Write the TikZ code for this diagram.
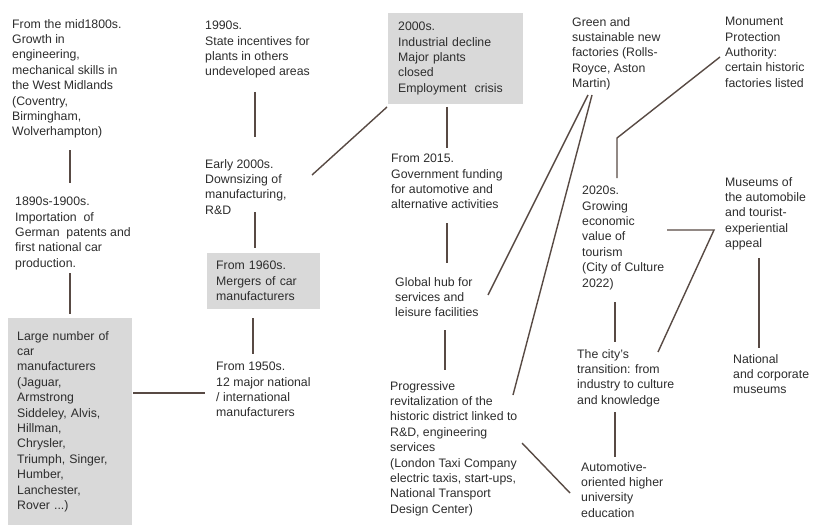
\documentclass[tikz,border=0pt]{standalone}
\usepackage{fontspec}
\setmainfont{Liberation Sans}
\usetikzlibrary{calc}
\definecolor{boxgray}{RGB}{217,217,217}
\definecolor{linebrown}{RGB}{88,74,68}
\definecolor{textgray}{RGB}{45,45,45}
\begin{document}
\begin{tikzpicture}
        [x=1pt, y=-1pt,
         text_style/.style={anchor=north west, inner sep=0pt, align=left, text=textgray,
                            font=\fontsize{12.3}{15.4}\selectfont},
         box_style/.style={text_style, fill=boxgray, inner xsep=9pt, inner ysep=8pt},
         edge_style/.style={draw=linebrown, line width=1.4pt}]
            \fill[white] (0,0) rectangle (821,532);
            \useasboundingbox (0,0) rectangle (821,532);
            % first column
            \node[text_style] (m1800) at (12, 19) {From the mid1800s.\\Growth in\\engineering,\\mechanical skills in\\the West Midlands\\(Coventry,\\Birmingham,\\Wolverhampton)};
            \node[text_style] (i1890) at (15, 197) {1890s-1900s.\\Importation \ of\\German \ patents and\\first national car\\production.};
            \node[box_style, inner ysep=13pt, text width=106pt] (large) at (8, 318) {Large number of\\car\\manufacturers\\(Jaguar,\\Armstrong\\Siddeley, Alvis,\\Hillman,\\Chrysler,\\Triumph, Singer,\\Humber,\\Lanchester,\\Rover ...)};
            % second column
            \node[text_style] (s1990) at (205, 21) {1990s.\\State incentives for\\plants in others\\undeveloped areas};
            \node[text_style] (e2000) at (205, 159) {Early 2000s.\\Downsizing of\\manufacturing,\\R\&D};
            \node[box_style, text width=95pt] (f1960) at (207, 253) {From 1960s.\\Mergers of car\\manufacturers};
            \node[text_style] (f1950) at (216, 362) {From 1950s.\\12 major national\\/ international\\manufacturers};
            % third column
            \node[box_style, inner xsep=10pt, inner ysep=9pt, text width=115pt] (d2000) at (388, 13) {2000s.\\Industrial decline\\Major plants\\closed\\Employment \ crisis};
            \node[text_style] (f2015) at (391, 154) {From 2015.\\Government funding\\for automotive and\\alternative activities};
            \node[text_style] (hub) at (395, 277) {Global hub for\\services and\\leisure facilities};
            \node[text_style] (prog) at (390, 381) {Progressive\\revitalization of the\\historic district linked to\\R\&D, engineering\\services\\(London Taxi Company\\electric taxis, start-ups,\\National Transport\\Design Center)};
            % fourth column
            \node[text_style] (green) at (572, 17) {Green and\\sustainable new\\factories (Rolls-\\Royce, Aston\\Martin)};
            \node[text_style] (t2020) at (582, 186) {2020s.\\Growing\\economic\\value of\\tourism\\(City of Culture\\2022)};
            \node[text_style] (trans) at (577, 349) {The city's\\transition: from\\industry to culture\\and knowledge};
            \node[text_style] (auto) at (581, 462) {Automotive-\\oriented higher\\university\\education};
            % fifth column
            \node[text_style] (monu) at (725, 17) {Monument\\Protection\\Authority:\\certain historic\\factories listed};
            \node[text_style] (museum) at (725, 177) {Museums of\\the automobile\\and tourist-\\experiential\\appeal};
            \node[text_style] (natl) at (733, 354) {National\\and corporate\\museums};
            % links
            \draw[edge_style] ($(m1800.north west)+(58,131)$) -- ($(i1890.north west)+(55,-14)$);
            \draw[edge_style] ($(i1890.north west)+(55,76)$) -- ($(large.north west)+(62,-4)$);
            \draw[edge_style] ($(large.north east)+(1,75)$) -- ($(f1950.north west)+(-11,31)$);
            \draw[edge_style] ($(s1990.north west)+(50,71)$) -- ($(e2000.north west)+(50,-22)$);
            \draw[edge_style] ($(e2000.north west)+(50,53)$) -- ($(f1960.north west)+(48,-5)$);
            \draw[edge_style] ($(f1960.north west)+(46,65)$) -- ($(f1950.north west)+(37,-8)$);
            \draw[edge_style] ($(e2000.north west)+(107,16)$) -- ($(d2000.north west)+(-1,94)$);
            \draw[edge_style] ($(d2000.north west)+(59,94)$) -- ($(f2015.north west)+(56,-6)$);
            \draw[edge_style] ($(f2015.north west)+(56,69)$) -- ($(hub.north west)+(52,-14)$);
            \draw[edge_style] ($(hub.north west)+(50,53)$) -- ($(prog.north west)+(55,-11)$);
            \draw[edge_style] ($(green.north west)+(16,78)$) -- ($(hub.north west)+(93,18)$);
            \draw[edge_style] ($(green.north west)+(20,78)$) -- ($(prog.north west)+(123,14)$);
            \draw[edge_style] ($(prog.north west)+(132,62)$) -- ($(auto.north west)+(-11,31)$);
            \draw[edge_style] ($(monu.north west)+(-5,40)$) -- ($(t2020.north west)+(35,-48)$) -- ($(t2020.north west)+(35,-8)$);
            \draw[edge_style] ($(t2020.north west)+(33,116)$) -- ($(trans.north west)+(38,-7)$);
            \draw[edge_style] ($(trans.north west)+(38,63)$) -- ($(auto.north west)+(34,-5)$);
            \draw[edge_style] ($(t2020.north west)+(85,44)$) -- ($(museum.north west)+(-11,53)$) -- ($(trans.north west)+(81,3)$);
            \draw[edge_style] ($(museum.north west)+(34,81)$) -- ($(natl.north west)+(26,-6)$);
\end{tikzpicture}
\end{document}
